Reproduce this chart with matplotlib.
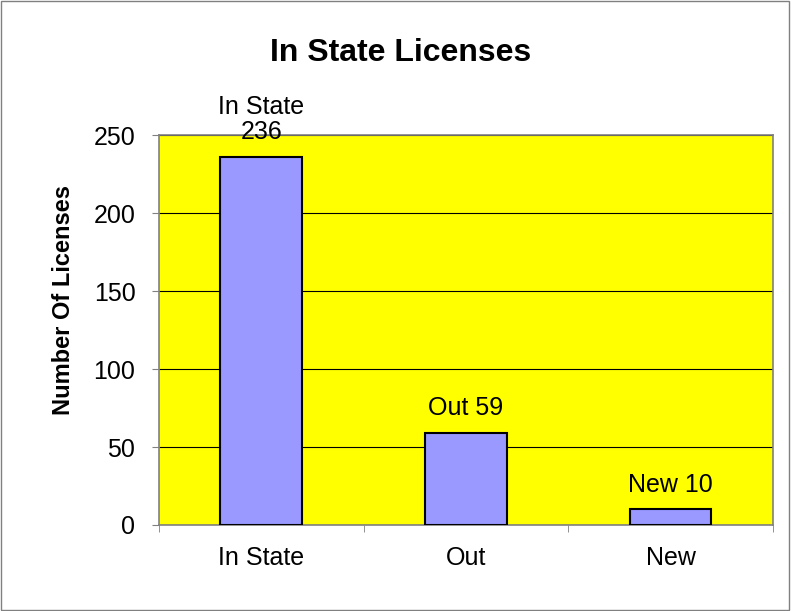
import matplotlib.pyplot as plt
from matplotlib.patches import Rectangle

plt.rcParams['font.family'] = ['Liberation Sans', 'DejaVu Sans']

categories = ["In State", "Out", "New"]
counts = [236, 59, 10]
bar_labels = ["In State\n236", "Out 59", "New 10"]

fig = plt.figure(figsize=(7.91, 6.11), dpi=100)
ax = fig.add_axes([0.201, 0.1408, 0.776, 0.638])
ax.set_facecolor('#FFFF00')

x = list(range(len(categories)))
ax.bar(x, counts, width=0.4, color='#9999FF', edgecolor='black', linewidth=1.5, zorder=3)
for xi, c, lab in zip(x, counts, bar_labels):
    ax.annotate(lab, (xi, c), xytext=(0, 9), textcoords='offset points',
                ha='center', va='bottom', fontsize=18, zorder=4, linespacing=1.1,
                annotation_clip=False)

ax.set_xlim(-0.5, 2.5)
ax.set_ylim(0, 250)
ax.set_yticks([0, 50, 100, 150, 200, 250])
ax.yaxis.grid(True, color='black', linewidth=0.8, zorder=0)
ax.set_axisbelow(True)

ax.set_xticks(x)
ax.set_xticklabels(categories, fontsize=18)
ax.tick_params(axis='x', length=0, pad=15)
ax.set_xticks([-0.5, 0.5, 1.5, 2.5], minor=True)
ax.tick_params(axis='x', which='minor', length=5, color='#808080', direction='out')
ax.tick_params(axis='y', labelsize=18, length=5, color='#808080', direction='out', pad=12)

for s in ax.spines.values():
    s.set_color('#808080')
    s.set_linewidth(1.2)

fig.text(0.08, 0.509, "Number Of Licenses", rotation=90, ha='center', va='center',
         fontsize=17, fontweight='bold')
fig.text(0.506, 0.913, "In State Licenses", ha='center', va='center', fontsize=23, fontweight='bold')

fig.patches.append(Rectangle((0.001, 0.001), 0.997, 0.997, transform=fig.transFigure,
                             fill=False, edgecolor='#808080', linewidth=1))

fig.savefig("out.png", dpi=100)
